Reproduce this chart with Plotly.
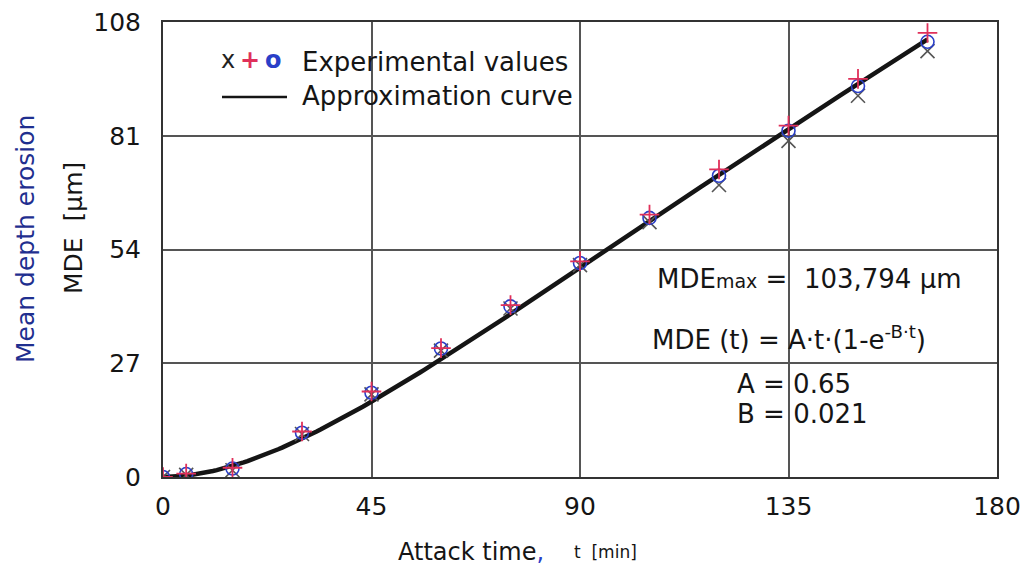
import numpy as np
import plotly.graph_objects as go

# Attack times [min] and measured mean depth erosion [µm] for three specimens
attack_time = [0, 5, 15, 30, 45, 60, 75, 90, 105, 120, 135, 150, 165]
mde_cross = [0.0, 0.5, 1.6, 10.2, 19.6, 30.0, 40.0, 50.3, 60.5, 69.3, 79.8, 90.5, 101.1]
mde_plus = [0.0, 0.8, 2.2, 10.8, 20.3, 30.6, 40.8, 51.2, 62.3, 73.0, 83.4, 94.5, 105.4]
mde_circle = [0.0, 0.7, 2.0, 10.5, 20.0, 30.5, 40.5, 50.8, 61.5, 71.5, 82.2, 92.8, 103.3]

# Approximation MDE(t) = A·t·(1 - e^(-B·t))
A = 0.65
B = 0.021
t_fit = np.linspace(0, 165, 200)
mde_fit = A * t_fit * (1 - np.exp(-B * t_fit))

x_ticks = [0, 45, 90, 135, 180]
y_ticks = [0, 27, 54, 81, 108]

FONT = "DejaVu Sans, Verdana, sans-serif"
INK = "#151515"
RED = "#e0305a"
BLUE = "#2a3fc8"
NAVY = "#1f2f8f"

fig = go.Figure()

fig.add_trace(go.Scatter(
    x=t_fit, y=mde_fit, mode="lines",
    line=dict(color=INK, width=4.5), showlegend=False, hoverinfo="skip"))

fig.add_trace(go.Scatter(
    x=attack_time, y=mde_cross, mode="markers", showlegend=False,
    marker=dict(symbol="x-thin-open", size=14, color="#555555",
                line=dict(color="#555555", width=1.6))))
fig.add_trace(go.Scatter(
    x=attack_time, y=mde_circle, mode="markers", showlegend=False,
    marker=dict(symbol="circle-open", size=13, color=BLUE,
                line=dict(color=BLUE, width=1.6))))
fig.add_trace(go.Scatter(
    x=attack_time, y=mde_plus, mode="markers", showlegend=False,
    marker=dict(symbol="cross-thin-open", size=14, color=RED,
                line=dict(color=RED, width=1.8))))

L, R, T, Bm = 163, 25, 22, 89
W, H = 1022, 566
pw, ph = W - L - R, H - T - Bm


def px(x):
    return (x - L) / pw


def py(y):
    return (H - Bm - y) / ph


ann = []
# legend block
ann += [
    dict(x=px(228), y=py(60), text="x", font=dict(size=24, color="#222222")),
    dict(x=px(250), y=py(60), text="<b>+</b>", font=dict(size=24, color=RED)),
    dict(x=px(273), y=py(60), text="<b>o</b>", font=dict(size=24, color=BLUE)),
    dict(x=px(300), y=py(62), text="Experimental values", xanchor="left",
         font=dict(size=26, color=INK)),
    dict(x=px(300), y=py(96), text="Approximation curve", xanchor="left",
         font=dict(size=26, color=INK)),
]
# fit parameters
ann += [
    dict(x=px(655), y=py(279), xanchor="left",
         text="MDE<span style='font-size:19px'>max</span> =  103,794 µm",
         font=dict(size=26, color=INK)),
    dict(x=px(650), y=py(338), xanchor="left",
         text="MDE (t) = A·t·(1-e<sup>-B·t</sup>)",
         font=dict(size=26, color=INK)),
    dict(x=px(735), y=py(384), xanchor="left", text="A = 0.65",
         font=dict(size=26, color=INK)),
    dict(x=px(735), y=py(414), xanchor="left", text="B = 0.021",
         font=dict(size=26, color=INK)),
]
# axis titles
ann += [
    dict(x=px(25), y=py(239), text="Mean depth erosion", textangle=-90,
         font=dict(size=25, color=NAVY)),
    dict(x=px(74), y=py(228), text="MDE  [µm]", textangle=-90,
         font=dict(size=25, color=INK)),
    dict(x=px(396), y=py(552), xanchor="left",
         text=f"Attack time<span style='color:{BLUE}'>,</span>",
         font=dict(size=24, color=INK)),
    dict(x=px(572), y=py(552), xanchor="left", text="t  [min]",
         font=dict(size=17, color=INK)),
]
for a in ann:
    a.setdefault("xanchor", "center")
    a.update(xref="paper", yref="paper", yanchor="middle", showarrow=False)

fig.update_layout(
    width=W, height=H,
    margin=dict(l=L, r=R, t=T, b=Bm),
    paper_bgcolor="white", plot_bgcolor="white",
    font=dict(family=FONT, size=24, color=INK),
    annotations=ann,
    shapes=[dict(type="line", xref="paper", yref="paper",
                 x0=px(222), x1=px(287), y0=py(97), y1=py(97),
                 line=dict(color=INK, width=2.5))],
)
fig.update_xaxes(
    range=[0, 180], tickvals=x_ticks, ticktext=[str(v) for v in x_ticks],
    showgrid=True, gridcolor="#555555", gridwidth=1.5, zeroline=False,
    showline=True, linecolor="#333333", linewidth=2, mirror=True,
    ticks="", tickfont=dict(size=25, color=INK), ticklabelstandoff=6,
    automargin=False)
fig.update_yaxes(
    range=[0, 108], tickvals=y_ticks, ticktext=[str(v) for v in y_ticks],
    showgrid=True, gridcolor="#555555", gridwidth=1.5, zeroline=False,
    showline=True, linecolor="#333333", linewidth=2, mirror=True,
    ticks="", tickfont=dict(size=25, color=INK), ticklabelstandoff=15,
    automargin=False)

fig.write_html("out.html")
